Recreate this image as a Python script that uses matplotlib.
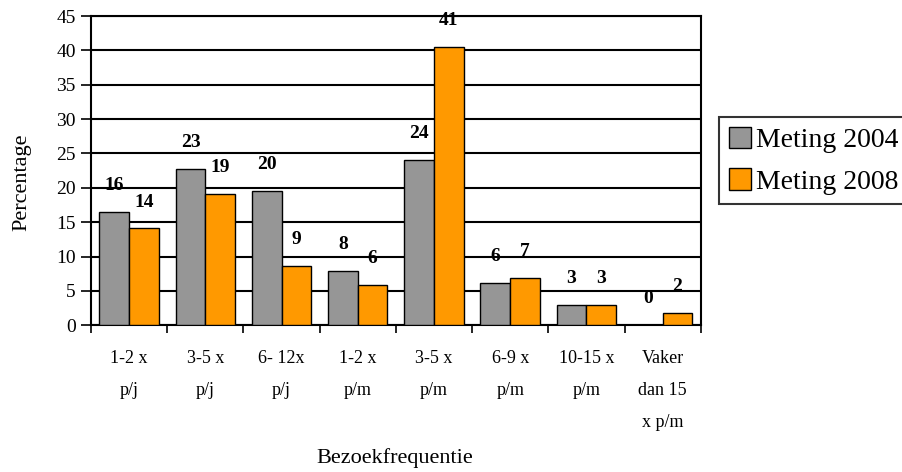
import matplotlib
matplotlib.use("Agg")
import matplotlib.pyplot as plt
import numpy as np

categories = ["1-2 x\np/j", "3-5 x\np/j", "6- 12x\np/j", "1-2 x\np/m", "3-5 x\np/m",
              "6-9 x\np/m", "10-15 x\np/m", "Vaker\ndan 15\nx p/m"]
meting_2004 = [16.5, 22.7, 19.6, 7.9, 24.0, 6.1, 3.0, 0.0]
meting_2008 = [14.1, 19.1, 8.7, 5.9, 40.5, 6.9, 3.0, 1.75]
labels_2004 = ["16", "23", "20", "8", "24", "6", "3", "0"]
labels_2008 = ["14", "19", "9", "6", "41", "7", "3", "2"]
yticks = [0, 5, 10, 15, 20, 25, 30, 35, 40, 45]

plt.rcParams['font.family'] = ['Liberation Serif', 'DejaVu Serif']

fig = plt.figure(figsize=(9.03, 4.72), dpi=100)
ax = fig.add_axes([0.1008, 0.3108, 0.6752, 0.6552])

x = np.arange(len(categories))
w = 0.39
b1 = ax.bar(x - w/2, meting_2004, w, color="#969696", edgecolor="black", linewidth=1.0,
            label="Meting 2004", zorder=3)
b2 = ax.bar(x + w/2, meting_2008, w, color="#FF9900", edgecolor="black", linewidth=1.0,
            label="Meting 2008", zorder=3)

for xi, v, t in zip(x - w/2, meting_2004, labels_2004):
    ax.annotate(t, (xi, v), xytext=(0, 19), textcoords="offset points", ha="center",
                va="center", fontsize=14, fontweight="bold")
for xi, v, t in zip(x + w/2, meting_2008, labels_2008):
    ax.annotate(t, (xi, v), xytext=(0, 19), textcoords="offset points", ha="center",
                va="center", fontsize=14, fontweight="bold", annotation_clip=False)

ax.set_xlim(-0.5, len(categories) - 0.5)
ax.set_ylim(0, 45)
ax.set_yticks(yticks)
ax.set_yticklabels([str(t) for t in yticks], fontsize=14)
ax.yaxis.grid(True, color="black", linewidth=1.5, zorder=0)
ax.set_axisbelow(True)

ax.set_xticks(np.arange(len(categories) + 1) - 0.5)
ax.set_xticklabels([])
ax.set_xticks(x, minor=True)
ax.set_xticklabels(categories, minor=True, fontsize=13, linespacing=2.15, va="top")
ax.tick_params(axis="x", which="minor", length=0, pad=18)
ax.tick_params(axis="x", which="major", length=6, width=1.2, direction="out")
ax.tick_params(axis="y", length=7, width=1.2, direction="out", pad=4)

for s in ax.spines.values():
    s.set_linewidth(1.5)
    s.set_color("black")

ax.set_ylabel("Percentage", fontsize=16)
ax.yaxis.set_label_coords(-0.098, 0.463)
fig.text(0.4375, 0.008, "Bezoekfrequentie", ha="center", va="bottom", fontsize=16)

leg = fig.legend(handles=[b1, b2], loc="upper left", bbox_to_anchor=(0.796, 0.752),
                 fontsize=20, frameon=True, fancybox=False, edgecolor="black",
                 handlelength=0.8, handleheight=0.8, handletextpad=0.2,
                 borderpad=0.35, labelspacing=0.55, borderaxespad=0)
leg.get_frame().set_linewidth(1.5)

fig.savefig("out.png", dpi=100)
